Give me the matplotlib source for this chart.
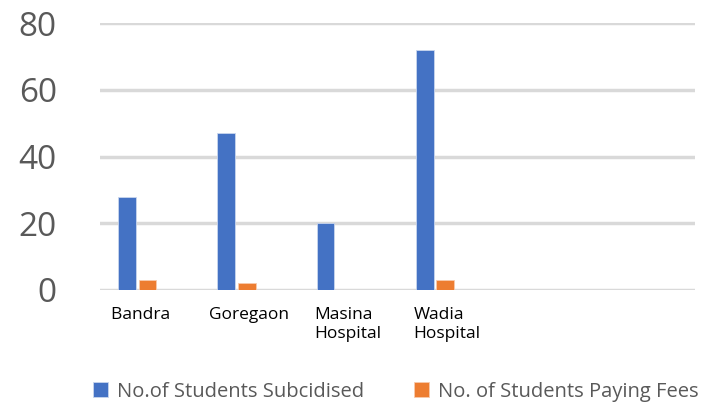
import matplotlib.pyplot as plt
import numpy as np

# data
categories = ['Bandra    ', 'Goregaon', 'Masina\nHospital', 'Wadia\nHospital', '', '']
subsidised = [28, 47, 20, 72, 0, 0]
paying_fees = [3, 2, 0, 3, 0, 0]
y_ticks = [0, 20, 40, 60, 80]

blue = '#4472C4'
orange = '#ED7D31'
grey = '#595959'

fig = plt.figure(figsize=(7.13, 4.05), dpi=100)
ax = fig.add_axes([0.140, 0.284, 0.835, 0.6585])

x = np.arange(len(categories))
w = 0.18
ax.bar(x - 0.225, subsidised, width=w, color=blue, edgecolor='#C9D6EE', linewidth=0.6,
       label='No.of Students Subcidised', zorder=3)
ax.bar(x - 0.02, paying_fees, width=w, color=orange, edgecolor='#F8CBAD', linewidth=0.6,
       label='No. of Students Paying Fees', zorder=3)

ax.set_xlim(-0.5, len(categories) - 0.5)
ax.set_ylim(0, 80)
ax.set_yticks(y_ticks)
ax.set_yticklabels([str(t) for t in y_ticks], fontsize=24, color=grey, family='Open Sans')
ax.set_xticks(x)
ax.set_xticklabels(categories, fontsize=12.5, color='black', family='Open Sans',
                   multialignment='left', va='top', linespacing=1.25)
ax.tick_params(axis='both', length=0)
ax.tick_params(axis='x', pad=12)
ax.tick_params(axis='y', pad=31)

ax.grid(axis='y', color='#D9D9D9', linewidth=2.5, zorder=0)
ax.set_axisbelow(True)
for s in ax.spines.values():
    s.set_visible(False)

fig.legend(loc='lower center', bbox_to_anchor=(0.555, -0.037), ncol=2, frameon=False,
           prop={'family': 'Open Sans', 'size': 14.5}, labelcolor=grey,
           handlelength=0.75, handleheight=0.75, handletextpad=0.45, columnspacing=2.45)

plt.savefig('out.png', dpi=100)
